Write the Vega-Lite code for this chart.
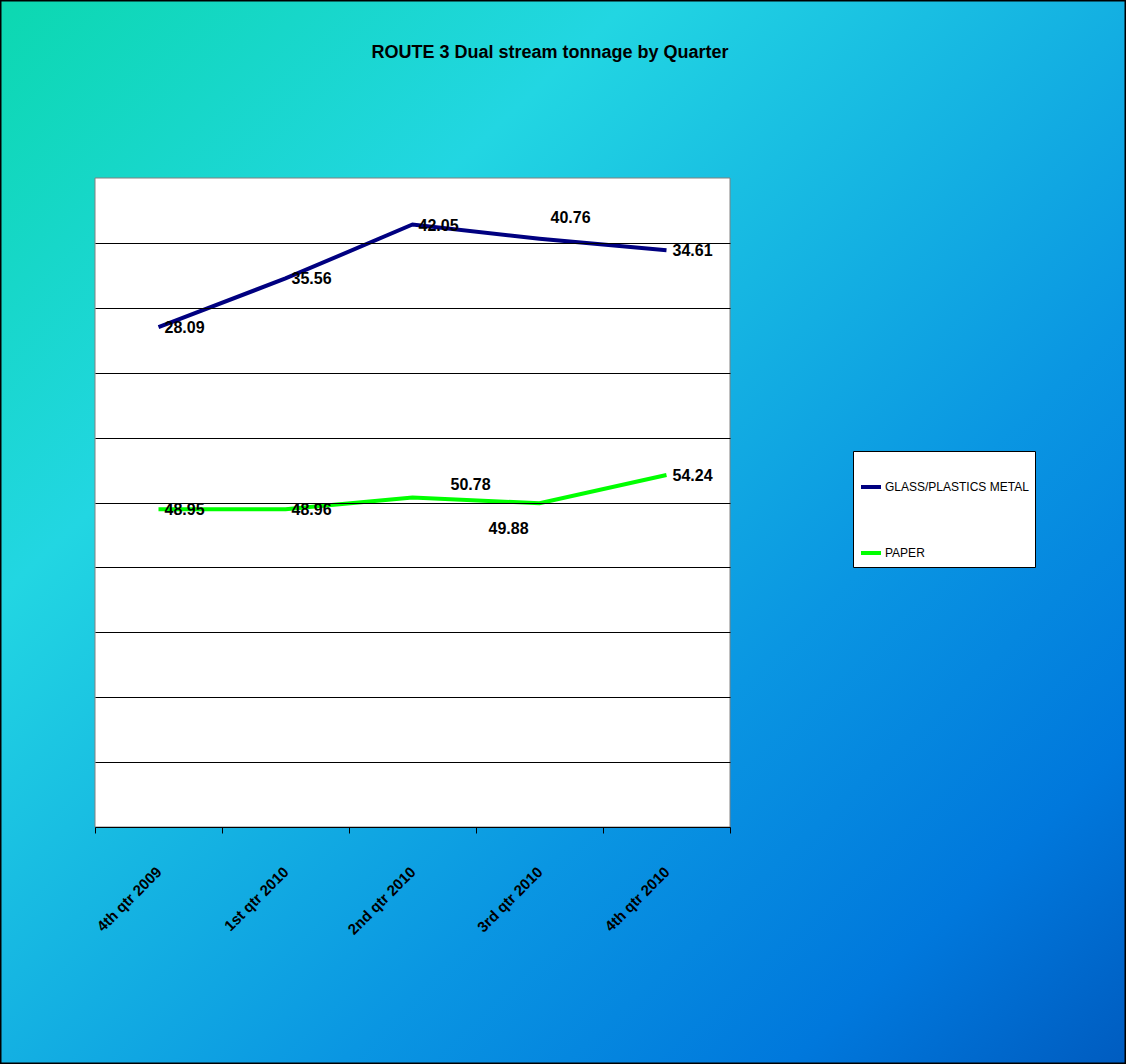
{
  "$schema": "https://vega.github.io/schema/vega-lite/v6.json",
  "width": 1126,
  "height": 1064,
  "autosize": "none",
  "padding": 0,
  "background": "#18b8e0",
  "title": {
    "text": "ROUTE 3 Dual stream tonnage by Quarter",
    "font": "Liberation Sans",
    "fontSize": 18,
    "fontWeight": "bold",
    "color": "black",
    "anchor": "middle",
    "frame": "group",
    "dx": -13,
    "dy": 67
  },
  "config": {
    "axis": {"zindex": 1},
    "view": {"stroke": null}
  },
  "data": {
    "values": [
      {"quarter": "4th qtr 2009", "series": "GLASS/PLASTICS METAL", "tons": 28.09},
      {"quarter": "4th qtr 2009", "series": "PAPER", "tons": 48.95},
      {"quarter": "1st qtr 2010", "series": "GLASS/PLASTICS METAL", "tons": 35.56},
      {"quarter": "1st qtr 2010", "series": "PAPER", "tons": 48.96},
      {"quarter": "2nd qtr 2010", "series": "GLASS/PLASTICS METAL", "tons": 42.05},
      {"quarter": "2nd qtr 2010", "series": "PAPER", "tons": 50.78},
      {"quarter": "3rd qtr 2010", "series": "GLASS/PLASTICS METAL", "tons": 40.76},
      {"quarter": "3rd qtr 2010", "series": "PAPER", "tons": 49.88},
      {"quarter": "4th qtr 2010", "series": "GLASS/PLASTICS METAL", "tons": 34.61},
      {"quarter": "4th qtr 2010", "series": "PAPER", "tons": 54.24}
    ]
  },
  "transform": [
    {"stack": "tons", "groupby": ["quarter"], "sort": [{"field": "series", "order": "descending"}], "as": ["base", "top"]}
  ],
  "layer": [
    {
      "data": {"values": [{}]},
      "mark": {
        "type": "rect",
        "stroke": "black",
        "strokeWidth": 3,
        "fill": {
          "gradient": "linear",
          "x1": 0, "y1": 0, "x2": 1, "y2": 1,
          "stops": [
            {"offset": 0, "color": "#0cd8b0"},
            {"offset": 0.28, "color": "#22d6e2"},
            {"offset": 0.65, "color": "#0a96e2"},
            {"offset": 0.85, "color": "#0078dc"},
            {"offset": 1, "color": "#005cc0"}
          ]
        }
      },
      "encoding": {}
    },
    {
      "data": {"values": [{}]},
      "mark": {"type": "rect", "fill": "white", "stroke": "#808080", "strokeWidth": 1},
      "encoding": {
        "x": {"datum": "4th qtr 2009", "bandPosition": 0, "type": "nominal"},
        "x2": {"datum": "4th qtr 2010", "bandPosition": 1},
        "y": {"datum": 0, "type": "quantitative"},
        "y2": {"datum": 100}
      }
    },
    {
      "mark": {"type": "line", "strokeWidth": 4},
      "encoding": {
        "x": {
          "field": "quarter",
          "type": "nominal",
          "scale": {"type": "band", "domain": ["4th qtr 2009", "1st qtr 2010", "2nd qtr 2010", "3rd qtr 2010", "4th qtr 2010"], "range": [95, 730], "paddingInner": 0, "paddingOuter": 0},
          "axis": {
            "title": null,
            "zindex": 2,
            "tickBand": "extent",
            "offset": -237,
            "labelAngle": -45,
            "labelFont": "Liberation Sans",
            "labelFontSize": 15,
            "labelFontWeight": "bold",
            "labelColor": "black",
            "labelPadding": 36,
            "domainColor": "black",
            "tickColor": "black",
            "tickSize": 6,
            "grid": false
          }
        },
        "y": {
          "field": "top",
          "type": "quantitative",
          "scale": {"domain": [0, 100], "range": [827, 178], "nice": false, "zero": false},
          "axis": {
            "title": null,
            "zindex": 2,
            "values": [10, 20, 30, 40, 50, 60, 70, 80, 90],
            "labels": false,
            "ticks": false,
            "domain": false,
            "grid": true,
            "gridColor": "black",
            "gridOpacity": 1,
            "gridWidth": 1
          }
        },
        "color": {
          "field": "series",
          "type": "nominal",
          "scale": {"domain": ["GLASS/PLASTICS METAL", "PAPER"], "range": ["#000080", "#00ff00"]},
          "legend": {
            "title": " ",
            "titleFontSize": 12,
            "titlePadding": 6,
            "orient": "none",
            "legendX": 853,
            "legendY": 451,
            "fillColor": "white",
            "strokeColor": "black",
            "padding": 6,
            "rowPadding": 46,
            "symbolType": "stroke",
            "symbolStrokeWidth": 4,
            "symbolSize": 400,
            "labelFont": "Liberation Sans",
            "labelFontSize": 12,
            "labelColor": "black",
            "labelLimit": 300,
            "labelOffset": 2
          }
        }
      }
    },
    {
      "transform": [{"filter": "!((datum.quarter == '3rd qtr 2010') || (datum.quarter == '2nd qtr 2010' && datum.series == 'PAPER'))"}],
      "mark": {"type": "text", "align": "left", "baseline": "middle", "dx": 6, "dy": 1, "font": "Liberation Sans", "fontSize": 16, "fontWeight": "bold", "color": "black"},
      "encoding": {
        "x": {"field": "quarter", "type": "nominal"},
        "y": {"field": "top", "type": "quantitative"},
        "text": {"field": "tons", "type": "quantitative", "format": ".2f"}
      }
    },
    {
      "transform": [{"filter": "datum.quarter == '3rd qtr 2010' && datum.series == 'GLASS/PLASTICS METAL'"}],
      "mark": {"type": "text", "align": "left", "baseline": "middle", "dx": 11, "dy": -21, "font": "Liberation Sans", "fontSize": 16, "fontWeight": "bold", "color": "black"},
      "encoding": {
        "x": {"field": "quarter", "type": "nominal"},
        "y": {"field": "top", "type": "quantitative"},
        "text": {"field": "tons", "type": "quantitative", "format": ".2f"}
      }
    },
    {
      "transform": [{"filter": "datum.quarter == '2nd qtr 2010' && datum.series == 'PAPER'"}],
      "mark": {"type": "text", "align": "left", "baseline": "middle", "dx": 38, "dy": -12, "font": "Liberation Sans", "fontSize": 16, "fontWeight": "bold", "color": "black"},
      "encoding": {
        "x": {"field": "quarter", "type": "nominal"},
        "y": {"field": "top", "type": "quantitative"},
        "text": {"field": "tons", "type": "quantitative", "format": ".2f"}
      }
    },
    {
      "transform": [{"filter": "datum.quarter == '3rd qtr 2010' && datum.series == 'PAPER'"}],
      "mark": {"type": "text", "align": "left", "baseline": "middle", "dx": -51, "dy": 26, "font": "Liberation Sans", "fontSize": 16, "fontWeight": "bold", "color": "black"},
      "encoding": {
        "x": {"field": "quarter", "type": "nominal"},
        "y": {"field": "top", "type": "quantitative"},
        "text": {"field": "tons", "type": "quantitative", "format": ".2f"}
      }
    }
  ]
}
